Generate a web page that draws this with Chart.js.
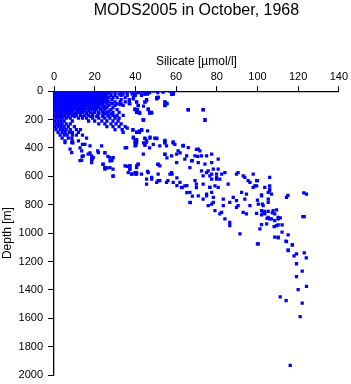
<!DOCTYPE html>
<html lang="en">

<head>
  <meta charset="UTF-8">
  <title>MODS2005 in October, 1968</title>
  <script src="https://cdn.jsdelivr.net/npm/chart.js"></script>
  <style>
    html, body { margin: 0; padding: 0; background: #fff; }
    .container_grafico { width: 351px; height: 384px; }
  </style>
</head>

<body>
  <div class="container_grafico">
    <canvas id="grafico"></canvas>
  </div>

<script>
  // near-surface casts, one row per sampled depth
  var rowDepths = [0, 10, 20, 30, 45, 60, 75, 90, 100, 115, 130, 150, 170, 190, 200, 210, 230, 250, 270, 290, 310, 330, 350];
  var rowSilicate = [
    [0.5, 2, 3.5, 5, 6.5, 8, 9.5, 11, 12.5, 14, 15.5, 17, 18.5, 20, 21.5, 24, 26, 29, 31, 35, 38, 40, 43, 46, 49, 53.5, 57, 58.5],
    [1, 2.5, 4, 5.5, 7, 8.5, 10, 11.5, 13, 14.5, 16, 17.5, 19, 20.5, 22, 25, 27, 30, 33, 36, 39, 41.5, 45, 47, 51],
    [0.5, 2, 3.5, 5, 6.5, 8, 9.5, 11, 12.5, 14, 15.5, 17, 18.5, 20, 21.5, 23, 24.5, 26, 28, 32, 34, 38.5, 40, 44.7, 46, 57.8, 58.6],
    [1, 2.5, 4, 5.5, 7, 8.5, 10, 11.5, 13, 14.5, 16, 17.5, 19, 20.5, 22, 23.5, 25, 28, 30, 33, 36, 39.8, 43],
    [0.5, 2, 3.5, 5, 6.5, 8, 9.5, 11, 12.5, 14, 15.5, 17, 18.5, 20, 21.5, 23, 24.5, 27, 29, 31, 35, 39, 50.5, 51.2],
    [1, 2.5, 4, 5.5, 7, 8.5, 10, 11.5, 13, 14.5, 16, 17.5, 19, 20.5, 22, 24, 26, 28.5, 33, 37, 45.5],
    [0.5, 2, 3.5, 5, 6.5, 8, 9.5, 11, 12.5, 14, 15.5, 17, 18.5, 20, 21.5, 23, 25, 27, 30, 32.5, 35, 37, 40.6, 44.7, 54.5],
    [1, 2.5, 4, 5.5, 7, 8.5, 10, 11.5, 13, 14.5, 16, 17.5, 19, 20.5, 22, 24, 26, 28.5, 31, 33, 37.3, 55.5],
    [0.5, 2, 3.5, 5, 6.5, 8, 9.5, 11, 12.5, 14, 15.5, 17, 18.5, 20, 22, 24, 27, 30, 34, 41.4, 54.5],
    [1, 2.5, 4, 5.5, 7, 8.5, 10, 11.5, 13, 14.5, 16, 18, 20, 22, 24.5, 26, 29],
    [0.5, 2, 3.5, 5, 6.5, 8, 10, 12, 13.5, 15, 17, 19, 21, 23, 25, 28, 31, 39.8, 41, 46.3, 66, 73.3],
    [1, 2.5, 4, 6, 7.5, 9, 11, 12.5, 14, 16, 18, 20, 22, 24, 26, 29, 32, 40.6, 42, 47, 48],
    [0.5, 2, 3.5, 5, 7, 9, 11, 13, 15, 17, 19, 21.5, 24, 26.5, 29, 31, 34],
    [1, 2.5, 4, 6, 8, 12, 14, 16, 19, 22, 25, 27.5, 30, 32],
    [44, 43.9, 74.2],
    [0.5, 2, 3.5, 5, 9, 17, 20, 23.5, 26, 29, 31.5],
    [1, 2.5, 4, 6, 8, 22, 25, 28, 30.5, 33],
    [0.5, 2, 3.5, 5, 7, 10, 26, 29, 32, 35],
    [1, 3, 4.5, 6, 8, 11, 13, 30, 33.5, 38.8, 43.1],
    [2, 4, 5.5, 7.5, 9, 12, 34, 40.6, 42],
    [3, 5, 6.5, 9, 11, 14],
    [4, 7, 8.8, 16, 39, 44.7, 47.2, 49.5, 50.5],
    [5.4, 9, 12, 40, 40.6, 45.5, 54.5]
  ];

  // in-between rows that close the dense surface blob
  var fillDepths = [5, 15, 25, 38, 52, 68, 82, 95, 108, 122, 140, 160, 180];
  var fillSilicate = [
    [1, 3, 5, 7, 9, 11, 13, 15, 17, 19, 21],
    [1.5, 3.5, 5.5, 7.5, 9.5, 11.5, 13.5, 15.5, 17.5, 19.5, 21.5, 23],
    [1, 3, 5, 7, 9, 11, 13, 15, 17, 19, 21, 23, 25],
    [1.5, 3.5, 5.5, 7.5, 9.5, 11.5, 13.5, 15.5, 17.5, 19.5, 21.5, 24, 26],
    [1, 3, 5, 7, 9, 11, 13, 15, 17, 19, 21, 23, 25],
    [1.5, 3.5, 5.5, 7.5, 9.5, 11.5, 13.5, 15.5, 17.5, 19.5, 21.5, 23.5, 26],
    [1, 3, 5, 7, 9, 11, 13, 15, 17, 19, 21, 24],
    [1.5, 3.5, 5.5, 7.5, 9.5, 11.5, 13.5, 15.5, 17.5, 19.5, 21.5, 23],
    [1, 3, 5, 7, 9, 11, 13, 15, 17, 19, 21, 25],
    [1.5, 3.5, 5.5, 7.5, 9.5, 11.5, 13.5, 15.5, 17.5, 19.5, 23],
    [1, 3, 5, 7, 9, 11, 13, 15, 17, 20, 24, 27],
    [1.5, 3.5, 5.5, 8, 10, 13, 16, 19, 22, 25, 28],
    [1, 3, 5, 7, 10, 14, 18, 21, 24, 27, 30]
  ];

  // scattered upper points (0 - 400 m)
  var upperSilicate = [38.2, 39.8, 43.1, 44.7, 46.3, 40.6, 39, 44.7, 45.5, 41.4, 39.8, 40.6, 46.3, 48, 42.2, 50.5, 53.7, 51.2, 54.5, 57.8, 58.6, 54.5, 66, 73.3, 74.2, 43.9, 38.8, 40.6, 43.1, 39, 40.6, 44.7, 45.5, 47.2, 50.5, 54.5, 58.6, 63.5, 40.3, 44.7, 53.5, 58, 66, 50.5, 55.5, 44, 47, 42, 41, 37, 32.5, 28.5, 26, 44, 36, 42, 46];
  var upperDepth = [7, 31, 7, 19, 7, 77, 54, 77, 66, 101, 124, 147, 124, 154, 154, 54, 7, 42, 77, 19, 19, 101, 131, 131, 206, 206, 274, 288, 276, 323, 342, 335, 358, 323, 335, 346, 358, 381, 381, 381, 0, 20, 130, 50, 85, 105, 155, 155, 130, 85, 95, 85, 155, 200, 260, 280, 280];

  // middle band (350 - 850 m)
  var midSilicate = [54.5, 58.5, 63.5, 70, 70.7, 68, 62, 54.5, 55.5, 51, 47, 44, 40, 35, 25, 21.5, 17.7, 13.8, 12.8, 18.7, 24, 28.5, 26, 29, 36, 37.3, 41.3, 40, 46, 45.5, 48, 52, 56, 58, 60.4, 60.4, 63, 65.3, 65.3, 68, 70, 67, 29, 25, 26.5, 9.3, 14, 12.8,
    5.4, 8.7, 7.9, 8.7, 13.6, 14.4, 13.6, 15.2, 17.7, 16.8, 18.5, 18.5, 18.5, 19.3, 21.8, 23.4, 25, 24.2, 25, 27.5, 27.5, 29.1, 27.5, 29.1, 35.7, 34.9, 37.3, 37.3, 38.2, 36.5, 39.8, 40.6, 40.6, 41.4, 39.8, 40.6,
    39.8, 44.7, 48.8, 52, 54.5, 55.3, 59.4, 63.5, 66, 70.9, 71.7, 61, 54.5, 57.8, 60.3, 65.2, 69.3, 72.5, 75, 77.5, 80.7, 77.5, 74.2, 70.9, 67.6, 64.3, 60.3, 66.8, 72.5, 75.8, 78.3, 80.7, 79.9, 76.6, 73.3, 79.9, 69.3, 61.9, 58.6, 55.3, 57, 57.8, 51.2, 51.2, 48, 50.5, 45.5, 52, 46.3, 43, 40.6, 38.2, 40.6, 37.3, 43.9, 51.2, 62.7, 64.3, 66.8, 70.9, 73.3, 75, 76.6, 77.5, 75.8, 66.8, 70];
  var midDepth = [365, 365, 385, 410, 460, 490, 435, 445, 470, 515, 400, 365, 350, 400, 435, 420, 435, 460, 490, 480, 515, 490, 540, 550, 530, 550, 515, 585, 565, 620, 620, 630, 630, 585, 610, 665, 680, 665, 715, 740, 680, 785, 600, 550, 460, 365, 375, 400,
    363, 363, 409, 433, 421, 456, 486, 374, 386, 444, 456, 479, 503, 468, 433, 386, 433, 514, 538, 468, 491, 468, 538, 596, 398, 526, 526, 549, 584, 573, 386, 363, 538, 514, 573, 584,
    363, 374, 374, 386, 363, 386, 374, 386, 398, 409, 421, 421, 444, 456, 444, 456, 456, 456, 456, 444, 479, 503, 514, 503, 491, 479, 503, 538, 561, 561, 549, 549, 584, 596, 596, 620, 631, 643, 643, 643, 584, 573, 584, 631, 608, 643, 655, 526, 573, 584, 573, 584, 526, 526, 444, 514, 678, 667, 713, 737, 760, 725, 678, 713, 807, 784, 655];

  // deep points (below ~550 m)
  var deepSilicate = [75, 77.5, 79.9, 82.4, 84, 81.5, 77.5, 73.3, 76.6, 79.1, 80.7, 85.6, 89.7, 90.5, 93, 93.8, 95.4, 96.3, 99.6, 98.7, 97.9, 106, 106, 106, 105.3, 106.9, 105.3, 102, 100.4, 105.3, 96.3, 93.8, 89.7, 88.1, 86.4, 83.2, 83.2, 78.3, 77.5, 79.1, 75, 78.3, 89.7, 90.5, 93, 102, 102.8, 103.6, 105.3, 106, 107.7, 108.5, 108.5, 110.2, 109.4, 104.5, 101.2, 91.4, 100.4, 108.5, 110.2, 81.5, 84, 86.4, 86.4, 82.4, 94.6, 103.6, 94.6, 92.2, 97.9,
    100, 99.6, 106, 102, 114.3, 124.1, 100, 102.4, 102.8, 109.4, 105.3, 103.6, 99.6, 102, 107.3, 104.7, 106.9, 111.2, 110.2, 123, 102, 108.2, 110.2, 112.1, 112.1, 115.1, 110.2, 114, 117.1, 100, 115.1,
    114.3, 117.2, 115.1, 119.2, 118, 123, 124, 119.2, 122, 119.2, 124.1, 120, 111.2, 114.1, 122, 121, 116.1, 122.8, 122.3, 115];
  var deepDepth = [573, 584, 608, 584, 573, 620, 620, 655, 678, 667, 678, 655, 584, 573, 596, 608, 631, 643, 631, 667, 678, 608, 667, 702, 713, 725, 760, 737, 795, 784, 807, 760, 772, 749, 784, 760, 807, 784, 795, 842, 737, 749, 819, 807, 854, 842, 854, 865, 889, 900, 842, 865, 912, 889, 947, 935, 970, 1006, 1076, 1029, 1029, 865, 900, 924, 947, 854, 865, 678, 725, 713, 584,
    631, 667, 690, 730, 749, 725, 767, 795, 807, 837, 847, 847, 861, 872, 858, 896, 900, 893, 900, 884, 940, 954, 942, 942, 994, 1013, 1034, 1057, 1083, 1076, 1118,
    1060, 1083, 1123, 1146, 1160, 1139, 1174, 1216, 1268, 1307, 1375, 1399, 1450, 1476, 1493, 1588, 1932, 716, 884, 735];

  var xTicks = [0, 20, 40, 60, 80, 100, 120, 140];
  var yTicks = [0, 200, 400, 600, 800, 1000, 1200, 1400, 1600, 1800, 2000];

  // junta tudo em pontos {x, y}
  var pontos = [];
  function adicionarLinhas(profs, linhas) {
    for (var i = 0; i < profs.length; i++) {
      for (var j = 0; j < linhas[i].length; j++) {
        pontos.push({ x: linhas[i][j], y: profs[i] });
      }
    }
  }
  function adicionar(sil, prof) {
    for (var k = 0; k < sil.length; k++) {
      pontos.push({ x: sil[k], y: prof[k] });
    }
  }
  adicionarLinhas(rowDepths, rowSilicate);
  adicionarLinhas(fillDepths, fillSilicate);
  adicionar(upperSilicate, upperDepth);
  adicionar(midSilicate, midDepth);
  adicionar(deepSilicate, deepDepth);

  var fonte = "'Liberation Sans', Arial, Helvetica, sans-serif";

  const config = {
    type: 'scatter',
    data: {
      datasets: [{
        label: 'Silicate',
        data: pontos,
        pointStyle: 'rect',
        pointRadius: 2.3,
        pointHoverRadius: 2.3,
        pointBorderWidth: 0,
        backgroundColor: '#0000ff',
        borderColor: '#0000ff'
      }]
    },
    options: {
      responsive: true,
      maintainAspectRatio: false,
      animation: false,
      events: [],
      layout: { padding: { left: 0, right: 12, top: 0, bottom: 9 } },
      plugins: {
        legend: { display: false },
        tooltip: { enabled: false },
        title: {
          display: true,
          fullSize: false,
          text: 'MODS2005 in October, 1968',
          color: '#000',
          font: { family: fonte, size: 16, weight: 'normal' },
          padding: { top: 1, bottom: 25 }
        }
      },
      scales: {
        x: {
          type: 'linear',
          position: 'top',
          min: 0,
          max: 140,
          afterFit: function (scale) { scale.height = 46; },
          afterBuildTicks: function (scale) {
            scale.ticks = xTicks.map(function (v) { return { value: v }; });
          },
          title: {
            display: true,
            text: 'Silicate [µmol/l]',
            color: '#000',
            font: { family: fonte, size: 12 },
            padding: { top: 9, bottom: 0 }
          },
          ticks: {
            color: '#000',
            font: { family: fonte, size: 11 },
            padding: 3,
            maxRotation: 0,
            callback: function (v) { return String(v); }
          },
          grid: { drawOnChartArea: false, drawTicks: true, tickLength: 5, color: '#000' },
          border: { display: true, color: '#000', width: 1.3 }
        },
        y: {
          type: 'linear',
          position: 'left',
          reverse: true,
          min: 0,
          max: 2000,
          afterFit: function (scale) {
            scale.width = 54;
            scale.paddingTop = 0;
            scale.paddingBottom = 0;
          },
          afterBuildTicks: function (scale) {
            scale.ticks = yTicks.map(function (v) { return { value: v }; });
          },
          title: {
            display: true,
            text: 'Depth [m]',
            color: '#000',
            font: { family: fonte, size: 12 },
            padding: { top: 0, bottom: 0 }
          },
          ticks: {
            color: '#000',
            font: { family: fonte, size: 11 },
            padding: 5,
            callback: function (v) { return String(v); }
          },
          grid: { drawOnChartArea: false, drawTicks: true, tickLength: 6, color: '#000' },
          border: { display: true, color: '#000', width: 1.3 }
        }
      }
    }
  };

  let meuGrafico = new Chart(document.getElementById('grafico'), config);
</script>
</body>

</html>
